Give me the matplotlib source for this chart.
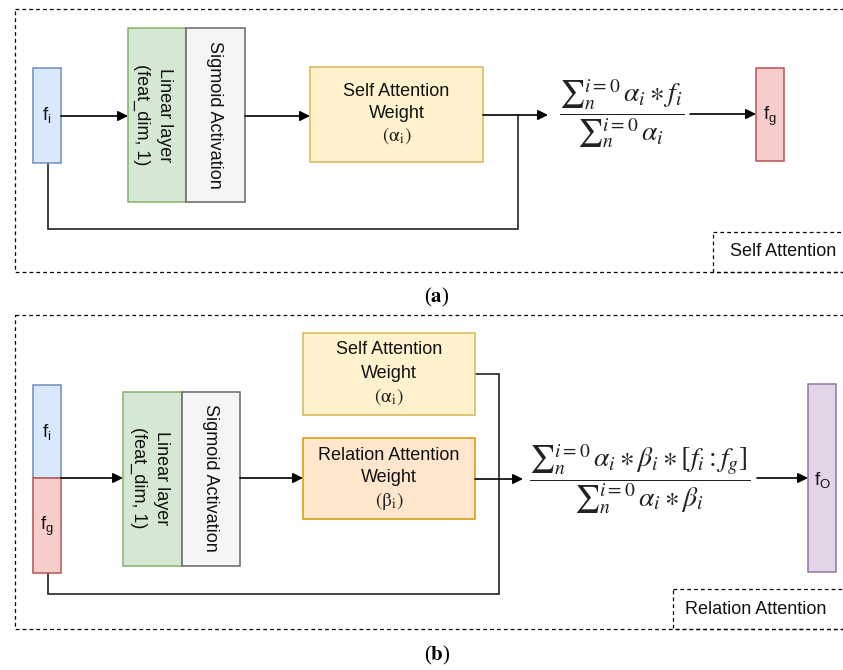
import matplotlib.pyplot as plt
from matplotlib.patches import Rectangle

# labels of the two attention diagrams
feat_labels_a = [r'f$_\mathregular{i}$', r'f$_\mathregular{g}$']
feat_labels_b = [r'f$_\mathregular{i}$', r'f$_\mathregular{g}$', r'f$_\mathregular{O}$']
layer_labels = ['Linear layer\n(feat_dim, 1)', 'Sigmoid Activation']
weight_labels = [['Self Attention', 'Weight'], ['Relation Attention', 'Weight']]
weight_syms = [r'$(\mathrm{\alpha_{i}})$', r'$(\mathrm{\beta_{i}})$']
panel_names = ['Self Attention', 'Relation Attention']
formula_a = r'$\dfrac{{\sum}_{n}^{i=0}\,\alpha_i \ast f_i}{{\sum}_{n}^{i=0}\,\alpha_i}$'
formula_b = (r'$\dfrac{{\sum}_{n}^{i=0}\,\alpha_i \ast \beta_i \ast [f_i : f_g]}'
             r'{{\sum}_{n}^{i=0}\,\alpha_i \ast \beta_i}$')
captions = ['a', 'b']

SANS = 'Liberation Sans'
BLUE = ('#dae8fc', '#6c8ebf')
RED = ('#f8cecc', '#b85450')
GREEN = ('#d5e8d4', '#82b366')
GREY = ('#f5f5f5', '#666666')
YELLOW = ('#fff2cc', '#d6b656')
ORANGE = ('#ffe6cc', '#d79b00')
PURPLE = ('#e1d5e7', '#9673a6')

fig = plt.figure(figsize=(8.43, 6.70), dpi=100)
ax = fig.add_axes([0, 0, 1, 1])
ax.set_xlim(0, 843)
ax.set_ylim(670, 0)
ax.axis('off')


def box(x0, y0, x1, y1, col, lw=1.1):
    ax.add_patch(Rectangle((x0, y0), x1 - x0, y1 - y0, facecolor=col[0],
                           edgecolor=col[1], lw=lw, zorder=2))


def dashed(x0, y0, x1, y1):
    ax.add_patch(Rectangle((x0, y0), x1 - x0, y1 - y0, facecolor='none',
                           edgecolor='black', lw=0.9, ls=(0, (3, 2.5)), zorder=1))


def arrow(x0, y0, x1, y1):
    ax.annotate('', xy=(x1, y1), xytext=(x0, y0),
                arrowprops=dict(arrowstyle='-|>', color='black', lw=1.2,
                                mutation_scale=15, shrinkA=0, shrinkB=0), zorder=3)


def line(xs, ys, c='#222222'):
    ax.plot(xs, ys, color=c, lw=1.2, zorder=1.5, solid_joinstyle='miter')


def label(x, y, s, size=13, **kw):
    ax.text(x, y, s, fontsize=size, family=SANS, ha='center', va='center',
            color='#111111', zorder=4, **kw)


def weight_box(x0, y0, x1, y1, col, lines, sym, ys):
    box(x0, y0, x1, y1, col)
    xc = (x0 + x1) / 2
    label(xc, ys[0], lines[0])
    label(xc, ys[1], lines[1])
    ax.text(xc, ys[2], sym, fontsize=14, math_fontfamily='stix',
            ha='center', va='center', color='#222222', zorder=4)


# ---------------- panel (a) ----------------
dashed(15, 9, 850, 272)
dashed(713, 232, 850, 272)
label(783, 252, panel_names[0], size=13)

box(33, 68, 61, 163, BLUE)
label(47, 116, feat_labels_a[0], size=13.5)
arrow(61, 116, 128, 116)
box(128, 28, 186, 202, GREEN)
box(186, 28, 245, 202, GREY)
label(153, 115, layer_labels[0], rotation=-90, linespacing=1.4)
label(214, 115, layer_labels[1], rotation=-90)
arrow(245, 116, 310, 116)
weight_box(310, 67, 483, 162, YELLOW, weight_labels[0], weight_syms[0], [91, 113, 136])
arrow(483, 115, 548, 115)
line([518, 518, 48, 48], [115, 229, 229, 163])
ax.text(622, 114, formula_a, fontsize=20, math_fontfamily='stix',
        ha='center', va='center', color='#222222', zorder=4)
arrow(690, 114, 756, 114)
box(756, 68, 784, 161, RED)
label(770, 116, feat_labels_a[1], size=13.5)

ax.text(437, 297, r'(' + r'$\mathbf{%s}$' % captions[0] + ')', fontsize=15,
        family='Liberation Serif', math_fontfamily='stix', ha='center', va='center')

# ---------------- panel (b) ----------------
dashed(15, 315, 850, 629)
dashed(673, 589, 850, 629)
label(756, 609, panel_names[1], size=13)

box(33, 385, 61, 478, BLUE)
box(33, 478, 61, 573, RED)
label(47, 433, feat_labels_b[0], size=13.5)
label(47, 526, feat_labels_b[1], size=13.5)
arrow(61, 478, 123, 478)
box(123, 392, 182, 566, GREEN)
box(182, 392, 240, 566, GREY)
label(150, 478, layer_labels[0], rotation=-90, linespacing=1.4)
label(210, 478, layer_labels[1], rotation=-90)
arrow(240, 478, 303, 478)
weight_box(303, 333, 475, 415, YELLOW, weight_labels[0], weight_syms[0], [350, 373, 397])
weight_box(303, 438, 475, 519, ORANGE, weight_labels[1], weight_syms[1], [455, 477, 501])
line([475, 499, 499, 48, 48], [374, 374, 594, 594, 573])
arrow(475, 479, 523, 479)
ax.text(640, 479, formula_b, fontsize=20, math_fontfamily='stix',
        ha='center', va='center', color='#222222', zorder=4)
arrow(757, 478, 808, 478)
box(808, 384, 836, 572, PURPLE)
label(822, 481, feat_labels_b[2], size=13.5)

ax.text(437, 655, r'(' + r'$\mathbf{%s}$' % captions[1] + ')', fontsize=15,
        family='Liberation Serif', math_fontfamily='stix', ha='center', va='center')

fig.savefig('out.png', dpi=100, facecolor='white')
